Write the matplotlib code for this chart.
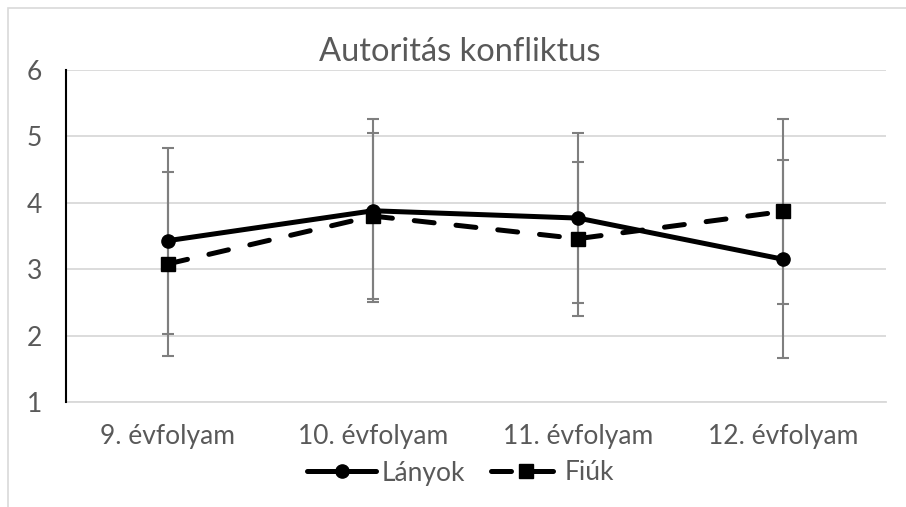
import matplotlib
matplotlib.use("Agg")
import matplotlib.pyplot as plt
from matplotlib.patches import Rectangle

categories = ["9. évfolyam", "10. évfolyam", "11. évfolyam", "12. évfolyam"]
lanyok = [3.43, 3.88, 3.77, 3.15]
lanyok_err = [1.40, 1.38, 1.28, 1.49]
fiuk = [3.08, 3.80, 3.46, 3.87]
fiuk_err = [1.39, 1.25, 1.16, 1.39]
yticks = [1, 2, 3, 4, 5, 6]

plt.rcParams['font.family'] = ['Lato', 'DejaVu Sans']
txt = "#595959"

fig = plt.figure(figsize=(9.06, 5.07), dpi=100)
W, H = 906, 507
ax = fig.add_axes([65.5 / W, 1 - 402 / H, (885.5 - 65.5) / W, (402 - 70) / H])

x = list(range(len(categories)))
ax.errorbar(x, lanyok, yerr=lanyok_err, fmt='none', ecolor='#7f7f7f',
            elinewidth=1.5, capsize=4, capthick=1.5, zorder=2)
ax.errorbar(x, fiuk, yerr=fiuk_err, fmt='none', ecolor='#7f7f7f',
            elinewidth=1.5, capsize=4, capthick=1.5, zorder=2)
ax.plot(x, lanyok, color='black', lw=3.6, marker='o', ms=9.5, label='Lányok',
        zorder=3, solid_capstyle='round')
ax.plot(x, fiuk, color='black', lw=3.6, ls=(0, (4.0, 4.4)), dash_capstyle='round',
        marker='s', ms=9.5, label='Fiúk', zorder=3)

ax.set_xlim(-0.5, 3.5)
ax.set_ylim(1, 6)
ax.set_yticks(yticks)
ax.set_yticklabels([str(v) for v in yticks])
ax.set_xticks(x)
ax.set_xticklabels(categories)
ax.grid(axis='y', color='#d9d9d9', lw=1.3, zorder=0)
ax.set_axisbelow(True)
for s in ['top', 'right']:
    ax.spines[s].set_visible(False)
ax.spines['bottom'].set_color('#d9d9d9')
ax.spines['bottom'].set_linewidth(1.3)
ax.spines['left'].set_color('black')
ax.spines['left'].set_linewidth(1.5)
ax.spines['left'].set_zorder(4)
ax.tick_params(axis='both', length=0, labelsize=19, colors=txt)
ax.tick_params(axis='y', pad=17)
ax.tick_params(axis='x', pad=16)

fig.text(460 / W, 1 - 52 / H, "Autoritás konfliktus", ha='center',
         va='center', fontsize=23.5, color=txt)

leg = fig.legend(loc='center', bbox_to_anchor=(461 / W, 1 - 473 / H), ncol=2,
                 frameon=False, fontsize=19, handlelength=2.6, columnspacing=1.0,
                 handletextpad=0.2, labelcolor=txt)

fig.patches.append(Rectangle((8 / W, -0.1), 1.1, 1 - 8 / H + 0.1, transform=fig.transFigure,
                             fill=False, edgecolor='#d9d9d9', lw=1.2))

fig.savefig("out.png", dpi=100)
